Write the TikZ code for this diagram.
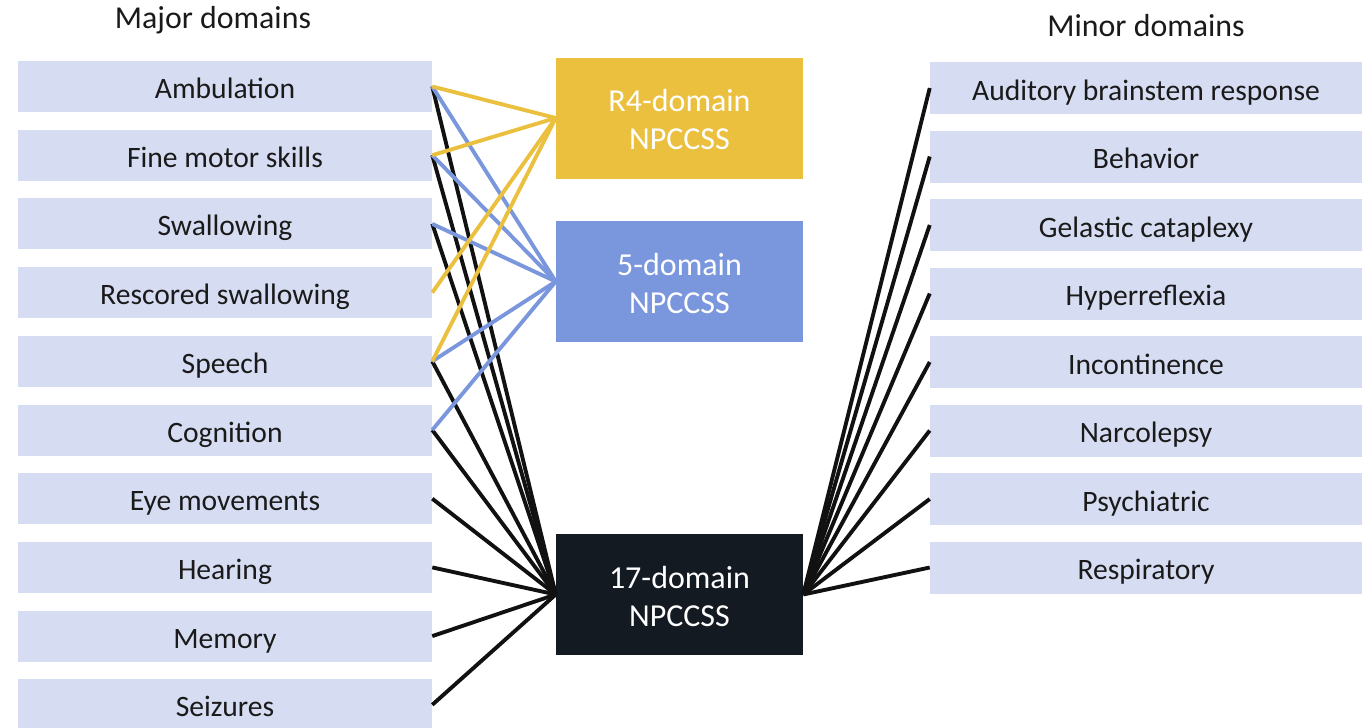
\documentclass[tikz,border=0pt]{standalone}
\usepackage{fontspec}
\setmainfont{Carlito}
\definecolor{boxlight}{HTML}{D6DDF2}
\definecolor{gold}{HTML}{EBC03F}
\definecolor{bluemid}{HTML}{7A96DC}
\definecolor{darkbox}{HTML}{131A22}
\definecolor{lineblack}{HTML}{111111}
\definecolor{txt}{HTML}{1A1A1A}
\newcommand{\toppad}{\rule{0pt}{19pt}}
\begin{document}
\begin{tikzpicture}[x=0.75pt,y=-0.75pt,
  major/.style={fill=boxlight,draw=none,minimum width=310.5pt,minimum height=38.25pt,inner sep=0pt,text=txt,text height=20pt,text depth=2pt,font=\fontsize{22.2}{26}\selectfont},
  minor/.style={fill=boxlight,draw=none,minimum width=324pt,minimum height=39pt,inner sep=0pt,text=txt,text height=20pt,text depth=2pt,font=\fontsize{22.2}{26}\selectfont},
  scorebox/.style={draw=none,minimum width=185.25pt,minimum height=90.75pt,inner sep=0pt,text=white,align=center,font=\fontsize{24}{28.5}\selectfont},
  title/.style={text=txt,font=\fontsize{23.9}{28}\selectfont,inner sep=0pt},
  link/.style={line width=2.9pt},
  ylink/.style={link,draw=gold},
  blink/.style={link,draw=bluemid},
  klink/.style={link,draw=lineblack}]
\useasboundingbox (0,0) rectangle (1367,728);
\fill[white] (0,0) rectangle (1367,728);

\node[title] (tmaj) at (213,20) {Major domains};
\node[title] (tmin) at (1146,26) {Minor domains};

\node[major] (amb) at (225,86.5) {Ambulation};
\node[major] (fine) at (225,155.2) {Fine motor skills};
\node[major] (swal) at (225,223.9) {Swallowing};
\node[major] (resc) at (225,292.6) {Rescored swallowing};
\node[major] (spee) at (225,361.3) {Speech};
\node[major] (cogn) at (225,430) {Cognition};
\node[major] (eye) at (225,498.7) {Eye movements};
\node[major] (hear) at (225,567.4) {Hearing};
\node[major] (memo) at (225,636.1) {Memory};
\node[major] (seiz) at (225,704.8) {Seizures};

\node[minor] (abr) at (1146,88) {Auditory brainstem response};
\node[minor] (beha) at (1146,156.5) {Behavior};
\node[minor] (gela) at (1146,225) {Gelastic cataplexy};
\node[minor] (hype) at (1146,293.5) {Hyperreflexia};
\node[minor] (inco) at (1146,362) {Incontinence};
\node[minor] (narc) at (1146,430.5) {Narcolepsy};
\node[minor] (psyc) at (1146,499) {Psychiatric};
\node[minor] (resp) at (1146,567.5) {Respiratory};

\node[scorebox,fill=gold] (r4) at (679.5,118) {\toppad R4-domain\\NPCCSS};
\node[scorebox,fill=bluemid] (d5) at (679.5,281.5) {\toppad 5-domain\\NPCCSS};
\node[scorebox,fill=darkbox] (d17) at (679.5,594.5) {\toppad 17-domain\\NPCCSS};

\foreach \n in {amb,fine,swal,spee,cogn,eye,hear,memo,seiz}
  \draw[klink] (\n.east) -- (d17.west);
\foreach \n in {abr,beha,gela,hype,inco,narc,psyc,resp}
  \draw[klink] (\n.west) -- (d17.east);
\foreach \n in {amb,fine,swal,spee,cogn}
  \draw[blink] (\n.east) -- (d5.west);
\foreach \n in {amb,fine,resc,spee}
  \draw[ylink] (\n.east) -- (r4.west);
\end{tikzpicture}
\end{document}
